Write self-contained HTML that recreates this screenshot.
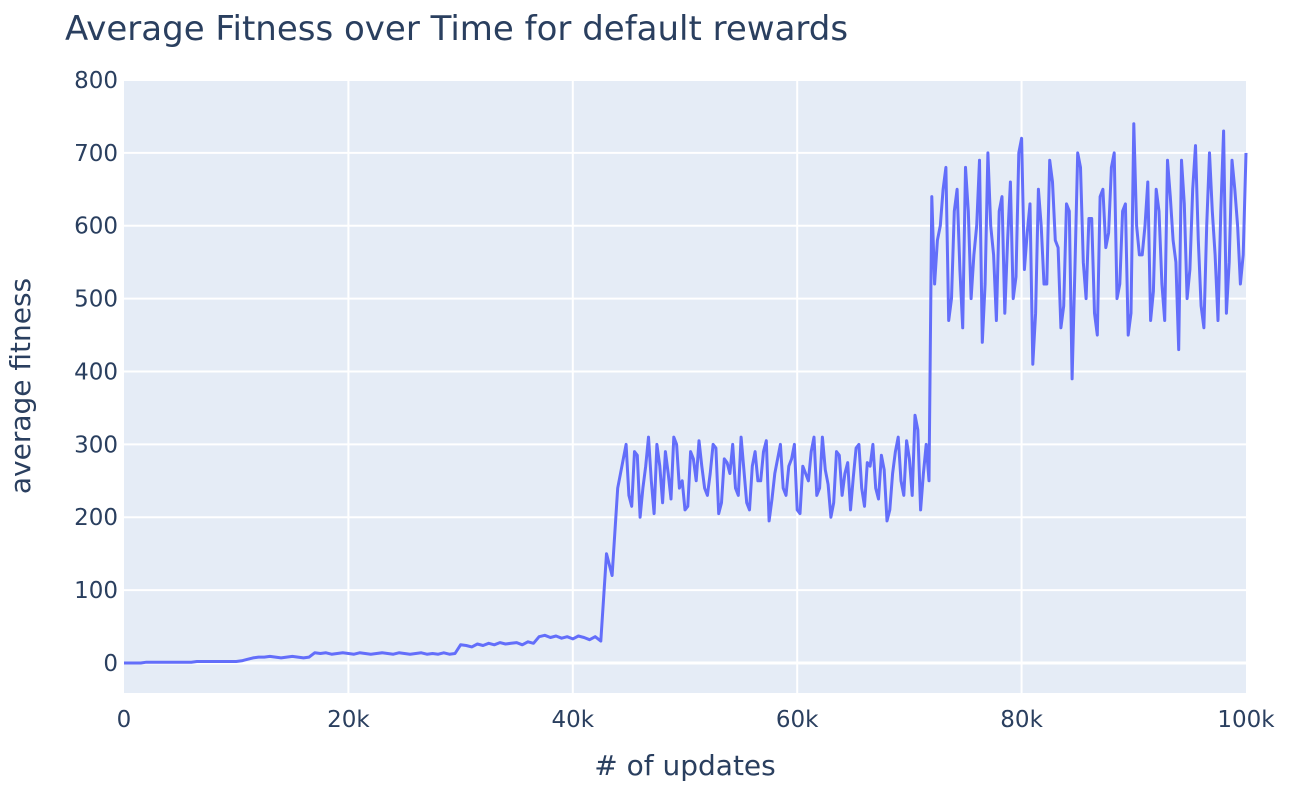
<!DOCTYPE html>
<html><head><meta charset="utf-8"><style>
html,body{margin:0;padding:0;background:#fff;}
svg{display:block;font-family:"DejaVu Sans","Liberation Sans",sans-serif;}
</style></head><body>
<svg id="chart" width="1300" height="800">
<text x="65" y="40" font-size="34" fill="#2a3f5f">Average Fitness over Time for default rewards</text>
<rect x="124" y="80" width="1122" height="613" fill="#e5ecf6"/>
<g id="grid"></g><g id="series"></g><g id="ticks"></g>
<text x="685" y="775" font-size="28" fill="#2a3f5f" text-anchor="middle"># of updates</text>
<text transform="translate(30,386) rotate(-90)" font-size="28" fill="#2a3f5f" text-anchor="middle">average fitness</text>
</svg>
<script>
const updateStep = 500;
const xTicks = [0, 20000, 40000, 60000, 80000, 100000];
const xTickLabels = ["0", "20k", "40k", "60k", "80k", "100k"];
const yTicks = [0, 100, 200, 300, 400, 500, 600, 700, 800];
const fitness = [
0,0,0,0,1,1,1,1,1,1,1,1,1,2,2,2,2,2,2,2,2,
3,5,7,8,
8,9,8,7,8,9,8,7,8,
14,13,14,12,13,14,13,12,14,13,12,13,14,13,12,14,13,12,13,14,12,13,12,14,12,13,
25,24,22,26,24,27,25,28,26,27,28,25,29,27,
36,38,35,37,34,36,33,37,35,32,36,30,
150,120,240,
280,230,290,200,270,250,300,220,260,310,240,210,290,250,270,230,300,205,280,260,
240,310,220,270,250,290,195,260,300,230,280,210,270,250,310,240,265,200,290,230,
275,255,300,215,270,240,285,195,260,310,230,280,340,210,300,
640,
580,650,470,620,540,680,500,600,440,700,560,620,480,660,530,720,590,410,650,520,
690,580,460,630,390,700,550,610,480,640,570,680,500,620,450,740,560,600,470,650,
520,690,580,430,630,540,710,490,600,620,470,730,550,650,520,700
];
// half-step samples (at i*500+250) for the noisy region starting at index 88
const midStart = 88;
const fitnessMid = [
260,300,215,285,240,310,205,270,290,225,300,250,215,280,305,240,260,295,220,275,
300,230,265,210,290,250,305,225,280,240,270,300,205,260,290,230,310,245,220,285,
260,210,295,240,275,300,225,265,210,290,250,305,230,320,260,250,
520,600,680,500,650,460,620,560,690,520,600,470,640,580,500,700,540,630,480,600,
520,660,570,490,620,540,680,500,610,450,650,590,700,520,630,480,600,560,660,510,
620,470,640,550,690,500,650,580,460,700,560,620,480,690,600,560
];
const NS = "http://www.w3.org/2000/svg";
const X0 = 124, X1 = 1246, Y0 = 693, Y1 = 80;
const xMin = 0, xMax = 100000, yMin = -41.2, yMax = 800;
const xs = v => X0 + (v - xMin) / (xMax - xMin) * (X1 - X0);
const ys = v => Y0 - (v - yMin) / (yMax - yMin) * (Y0 - Y1);
const grid = document.getElementById('grid'), ticks = document.getElementById('ticks'), series = document.getElementById('series');
function mk(tag, attrs, parent){const e=document.createElementNS(NS,tag);for(const k in attrs)e.setAttribute(k,attrs[k]);parent.appendChild(e);return e;}
xTicks.forEach((t,i)=>{
  if(t>xMin && t<xMax){
    const l=mk('line',{x1:xs(t),x2:xs(t),y1:Y1,y2:Y0,stroke:'#fff','stroke-width':2},grid);
    
    
  }
  const tx=mk('text',{x:xs(t),y:727,'font-size':23,fill:'#2a3f5f','text-anchor':'middle'},ticks);
  tx.textContent=xTickLabels[i];
  
  
});
yTicks.forEach(t=>{
  const l=mk('line',{x1:X0,x2:X1,y1:ys(t),y2:ys(t),stroke:'#fff','stroke-width':t===0?3:2},grid);
  
  
  const tx=mk('text',{x:118,y:ys(t)+8,'font-size':23,fill:'#2a3f5f','text-anchor':'end'},ticks);
  tx.textContent=String(t);
  
  
});
const pts = [];
fitness.forEach((v,i)=>{
  pts.push(xs(i*updateStep).toFixed(1)+','+ys(v).toFixed(1));
  const m = i - midStart;
  if(m>=0 && m<fitnessMid.length){
    pts.push(xs(i*updateStep+updateStep/2).toFixed(1)+','+ys(fitnessMid[m]).toFixed(1));
  }
});
const line = mk('polyline',{points:pts.join(' '),fill:'none',stroke:'#636efa','stroke-width':3,'stroke-linejoin':'round'},series);


</script>
</body></html>
